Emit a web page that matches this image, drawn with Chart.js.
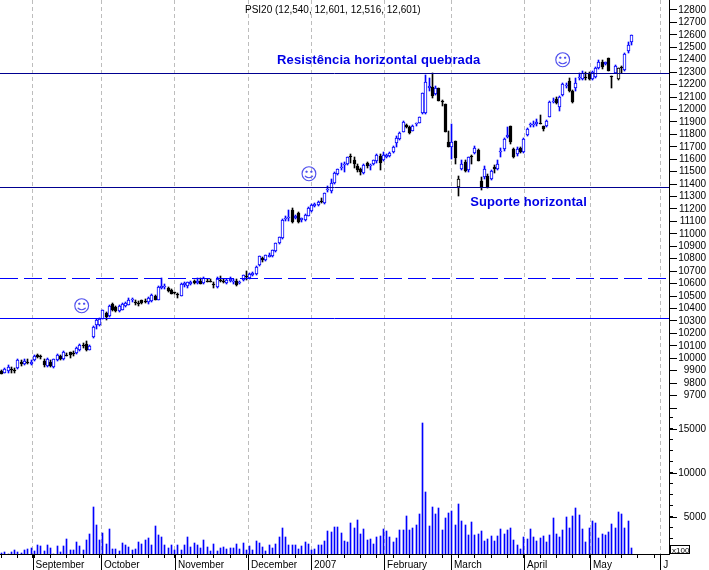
<!DOCTYPE html>
<html>
<head>
<meta charset="utf-8">
<title>PSI20</title>
<script src="https://cdn.jsdelivr.net/npm/chart.js@4"></script>
<style>
    html, body { margin: 0; padding: 0; background: #fff; overflow: hidden; }
    canvas { display: block; }
</style>
</head>
<body>
<canvas id="psiChart" width="709" height="570"></canvas>
<script>
const opens = [
    9900, 9882, 9895, 9912, 9906, 9920, 9970, 9952, 9972, 9955,
    9985, 10028, 10015, 9981, 9941, 9973, 9928, 9985, 10022, 9990,
    10030, 10048, 10045, 10043, 10070, 10105, 10112, 10070, 10168, 10270,
    10270, 10316, 10360, 10337, 10440, 10412, 10378, 10391, 10418, 10432,
    10468, 10455, 10448, 10466, 10460, 10450, 10458, 10503, 10471, 10565,
    10575, 10565, 10551, 10530, 10520, 10504, 10585, 10578, 10600, 10618,
    10605, 10624, 10605, 10625, 10625, 10595, 10573, 10632, 10625, 10605,
    10625, 10610, 10618, 10605, 10631, 10660, 10645, 10670, 10677, 10752,
    10805, 10792, 10815, 10819, 10859, 10926, 10966, 11120, 11125, 11194,
    11130, 11167, 11115, 11113, 11145, 11180, 11225, 11234, 11265, 11247,
    11350, 11341, 11408, 11483, 11530, 11555, 11560, 11625, 11595, 11542,
    11520, 11493, 11568, 11545, 11560, 11582, 11627, 11590, 11620, 11627,
    11662, 11729, 11761, 11822, 11876, 11862, 11830, 11880, 11895, 11969,
    11969, 12170, 12184, 12125, 12170, 12065, 12042, 11742, 11702, 11747,
    11373, 11522, 11581, 11514, 11627, 11654, 11675, 11426, 11461, 11466,
    11439, 11541, 11525, 11660, 11683, 11777, 11868, 11680, 11643, 11688,
    11656, 11795, 11872, 11875, 11881, 11892, 11868, 11870, 11943, 12060,
    12082, 12023, 12117, 12190, 12232, 12151, 12170, 12250, 12243, 12263,
    12296, 12245, 12264, 12331, 12384, 12363, 12411, 12266, 12296, 12243,
    12340, 12317, 12470, 12540
];
const highs = [
    9905, 9920, 9942, 9930, 9925, 9990, 9985, 9990, 9990, 9985,
    10030, 10035, 10030, 9990, 10000, 9985, 9995, 10032, 10030, 10055,
    10045, 10050, 10055, 10090, 10115, 10125, 10142, 10110, 10258, 10318,
    10320, 10390, 10370, 10430, 10445, 10420, 10430, 10445, 10455, 10485,
    10485, 10465, 10460, 10470, 10480, 10490, 10520, 10510, 10578, 10645,
    10600, 10570, 10555, 10535, 10525, 10605, 10615, 10615, 10625, 10630,
    10645, 10645, 10650, 10635, 10635, 10615, 10650, 10665, 10640, 10640,
    10650, 10635, 10640, 10620, 10672, 10698, 10685, 10690, 10740, 10825,
    10815, 10832, 10850, 10872, 10930, 10978, 11118, 11140, 11194, 11210,
    11150, 11175, 11130, 11158, 11212, 11238, 11250, 11265, 11285, 11332,
    11385, 11440, 11498, 11525, 11570, 11575, 11620, 11640, 11615, 11560,
    11530, 11560, 11575, 11565, 11595, 11645, 11645, 11655, 11640, 11660,
    11705, 11790, 11820, 11905, 11885, 11870, 11875, 11895, 11942, 12135,
    12275, 12250, 12290, 12185, 12175, 12075, 12045, 11830, 11880, 11750,
    11466, 11590, 11590, 11620, 11630, 11705, 11680, 11460, 11545, 11480,
    11515, 11550, 11590, 11690, 11770, 11860, 11870, 11690, 11695, 11695,
    11770, 11850, 11890, 11905, 11920, 11955, 11870, 11915, 12070, 12090,
    12100, 12105, 12210, 12215, 12250, 12155, 12250, 12295, 12310, 12300,
    12305, 12310, 12340, 12400, 12395, 12385, 12415, 12268, 12358, 12335,
    12350, 12450, 12540, 12601
];
const lows = [
    9870, 9880, 9882, 9882, 9885, 9915, 9935, 9945, 9950, 9945,
    9975, 10005, 9990, 9930, 9930, 9930, 9925, 9980, 9985, 9985,
    10015, 10005, 10020, 10035, 10060, 10085, 10062, 10065, 10160, 10235,
    10262, 10312, 10310, 10330, 10380, 10375, 10372, 10385, 10408, 10425,
    10455, 10425, 10420, 10440, 10445, 10440, 10450, 10465, 10465, 10555,
    10560, 10530, 10515, 10515, 10485, 10498, 10575, 10565, 10590, 10595,
    10595, 10595, 10600, 10610, 10610, 10565, 10565, 10610, 10605, 10595,
    10615, 10600, 10580, 10595, 10625, 10630, 10640, 10660, 10672, 10745,
    10775, 10785, 10810, 10812, 10852, 10920, 10960, 11100, 11100, 11090,
    11120, 11085, 11095, 11105, 11140, 11175, 11215, 11225, 11250, 11240,
    11335, 11330, 11400, 11475, 11515, 11500, 11552, 11570, 11530, 11500,
    11470, 11485, 11530, 11510, 11552, 11570, 11515, 11585, 11610, 11620,
    11650, 11700, 11755, 11815, 11850, 11800, 11825, 11870, 11890, 11960,
    11960, 12150, 12095, 12115, 12065, 12030, 11815, 11700, 11600, 11565,
    11306, 11510, 11495, 11495, 11565, 11640, 11585, 11355, 11445, 11370,
    11435, 11490, 11515, 11620, 11665, 11770, 11725, 11610, 11625, 11650,
    11650, 11785, 11860, 11860, 11870, 11880, 11830, 11860, 11940, 12050,
    12045, 11985, 12110, 12170, 12140, 12055, 12150, 12240, 12235, 12240,
    12235, 12240, 12255, 12325, 12325, 12355, 12310, 12170, 12290, 12240,
    12295, 12310, 12455, 12516
];
const closes = [
    9875, 9917, 9928, 9906, 9900, 9984, 9950, 9976, 9966, 9970,
    10020, 10012, 10008, 9944, 9995, 9938, 9990, 10027, 9995, 10048,
    10025, 10024, 10038, 10080, 10107, 10095, 10070, 10102, 10252, 10305,
    10316, 10385, 10332, 10423, 10385, 10380, 10423, 10440, 10444, 10466,
    10473, 10448, 10440, 10444, 10455, 10485, 10512, 10471, 10573, 10583,
    10580, 10538, 10519, 10525, 10515, 10600, 10605, 10610, 10615, 10605,
    10620, 10600, 10645, 10620, 10618, 10590, 10637, 10625, 10620, 10632,
    10635, 10625, 10592, 10612, 10666, 10650, 10677, 10682, 10733, 10819,
    10787, 10827, 10830, 10867, 10926, 10974, 11113, 11130, 11135, 11092,
    11140, 11092, 11125, 11153, 11207, 11234, 11240, 11260, 11258, 11327,
    11360, 11408, 11493, 11520, 11540, 11565, 11616, 11620, 11563, 11510,
    11500, 11555, 11542, 11555, 11590, 11630, 11568, 11635, 11630, 11650,
    11697, 11772, 11814, 11897, 11857, 11809, 11868, 11890, 11937, 12130,
    12224, 12190, 12109, 12170, 12071, 12060, 11822, 11702, 11742, 11608,
    11439, 11562, 11509, 11616, 11616, 11688, 11589, 11375, 11520, 11375,
    11509, 11520, 11562, 11670, 11761, 11795, 11742, 11621, 11680, 11662,
    11761, 11841, 11880, 11885, 11903, 11885, 11841, 11908, 12063, 12065,
    12050, 12098, 12202, 12200, 12149, 12058, 12210, 12265, 12296, 12257,
    12243, 12304, 12331, 12379, 12339, 12379, 12312, 12260, 12352, 12331,
    12335, 12443, 12518, 12601
];
const volumes = [
    950, 1060, 830, 1060, 1290, 1060, 910, 1250, 1400, 1480,
    1130, 1850, 1740, 1170, 1850, 1480, 830, 1740, 1020, 1740,
    2540, 1290, 1290, 2190, 1740, 1290, 2420, 3100, 6140, 4130,
    2420, 3220, 1970, 3670, 1400, 1400, 1130, 2080, 1850, 1630,
    1290, 1400, 2190, 1970, 2420, 2650, 1850, 4020, 2990, 2760,
    1850, 1480, 1850, 1250, 1850, 1250, 1850, 2760, 1630, 2080,
    1850, 1480, 2420, 1630, 1170, 1970, 1130, 1530, 1630, 1400,
    1480, 1530, 1970, 1400, 2080, 1250, 1740, 1290, 2310, 2080,
    1630, 1170, 1850, 1510, 1970, 2760, 3790, 2760, 1850, 1850,
    1850, 1400, 1740, 2190, 1970, 1250, 1400, 1850, 1850, 2310,
    3450, 3330, 3900, 3900, 3220, 2310, 2190, 4360, 3790, 4700,
    3110, 3670, 2420, 2540, 1970, 2760, 2880, 3670, 3450, 2760,
    2190, 2650, 3560, 3560, 5150, 3560, 3790, 4130, 5380, 15680,
    7880, 4010, 6170, 5380, 6060, 3560, 4920, 5490, 5720, 4130,
    6520, 4580, 4130, 2990, 4470, 2990, 3110, 3450, 2310, 2540,
    2880, 2310, 2880, 3670, 3110, 3560, 3790, 2420, 1850, 1360,
    2760, 2540, 3670, 2760, 2310, 2650, 2880, 2190, 2990, 4920,
    3110, 2760, 3560, 5040, 3790, 5150, 6060, 5260, 3670, 2190,
    3790, 4580, 4360, 2650, 3110, 2990, 3330, 4240, 3790, 5600,
    5380, 3790, 4580, 1510
];

// hollow candles that were printed with a black outline
const outlinedDays = [140, 189];

const monthNames = ['September', 'October', 'November', 'December', '2007', 'February', 'March', 'April', 'May', 'J'];
const monthDays = [9.46, 30.45, 53.1, 75.5, 94.8, 117.2, 137.7, 160.1, 180.3, 201.8];
const weekDays = [0, 5, 10, 15, 20, 25, 30, 35, 40, 45, 50, 55, 60, 65, 70, 75, 80, 85, 90, 95,
    100, 105, 110, 115, 120, 125, 130, 135, 140, 145, 150, 155, 160, 165, 170, 175, 180, 185, 190, 195, 200];

const priceTicks = [12800, 12700, 12600, 12500, 12400, 12300, 12200, 12100, 12000, 11900, 11800,
    11700, 11600, 11500, 11400, 11300, 11200, 11100, 11000, 10900, 10800, 10700, 10600, 10500,
    10400, 10300, 10200, 10100, 10000, 9900, 9800, 9700, 9600];
const volumeTicks = [16250, 15000, 13750, 12500, 11250, 10000, 8750, 7500, 6250, 5000, 3750, 2500, 1250];
const volumeLabels = [15000, 10000, 5000];

const resistanceLevel = 12293;
const supportLevel = 11378;
const dashedLevel = 10648;
const lowerLevel = 10326;

const smileDays = [24.6, 94.2, 172];
const smilePrices = [10405, 11465, 12385];

const titleText = 'PSI20 (12,540, 12,601, 12,516, 12,601)';
const noteTexts = ['Resistência horizontal quebrada', 'Suporte horizontal'];
const noteDays = [84.4, 143.6];
const notePrices = [12366, 11220];

const isUp = i => closes[i] >= opens[i];
const isOutlined = i => outlinedDays.includes(i);

// bars land on fractional x, snap them so wicks stay 1px and crisp
const snapBars = {
    id: 'snapBars',
    beforeDatasetsDraw(chart) {
        chart.getSortedVisibleDatasetMetas().forEach(meta => {
            meta.data.forEach(bar => {
                bar.x = Math.floor(bar.x) + 0.5;
                bar.y = Math.round(bar.y);
                bar.base = Math.round(bar.base);
                if (bar.y === bar.base) bar.base = bar.y + 1;
            });
        });
    }
};

function hLine(ctx, chart, y, color, dash) {
    ctx.strokeStyle = color;
    ctx.lineWidth = 1;
    ctx.setLineDash(dash);
    ctx.beginPath();
    ctx.moveTo(chart.chartArea.left, Math.round(y) + 0.5);
    ctx.lineTo(chart.chartArea.right, Math.round(y) + 0.5);
    ctx.stroke();
    ctx.setLineDash([]);
}

const overlays = {
    id: 'overlays',
    afterDraw(chart) {
        const ctx = chart.ctx;
        const x = chart.scales.x;
        const price = chart.scales.price;
        const volume = chart.scales.volume;

        ctx.save();
        hLine(ctx, chart, price.getPixelForValue(resistanceLevel), '#000090', []);
        hLine(ctx, chart, price.getPixelForValue(supportLevel), '#000090', []);
        hLine(ctx, chart, price.getPixelForValue(dashedLevel), '#0000ff', [18, 6]);
        hLine(ctx, chart, price.getPixelForValue(lowerLevel), '#0000ff', []);

        // month ticks run down through the label row
        ctx.strokeStyle = '#000';
        ctx.lineWidth = 1;
        monthDays.forEach(day => {
            const px = Math.round(x.getPixelForValue(day)) + 0.5;
            ctx.beginPath();
            ctx.moveTo(px, x.top);
            ctx.lineTo(px, 570);
            ctx.stroke();
        });

        // labelled volume ticks are longer than the rest
        volumeLabels.forEach(value => {
            const py = Math.round(volume.getPixelForValue(value)) + 0.5;
            ctx.beginPath();
            ctx.moveTo(volume.left, py);
            ctx.lineTo(volume.left + 8, py);
            ctx.stroke();
        });

        ctx.fillStyle = '#000';
        ctx.font = '10px "Liberation Sans"';
        ctx.textBaseline = 'alphabetic';
        ctx.textAlign = 'left';
        ctx.fillText(titleText, 245, 13);

        ctx.font = 'bold 13px "Liberation Sans"';
        ctx.fillStyle = '#0000e6';
        ctx.letterSpacing = '0.1px';
        noteTexts.forEach((text, i) => {
            ctx.fillText(text, x.getPixelForValue(noteDays[i]), price.getPixelForValue(notePrices[i]));
        });
        ctx.letterSpacing = '0px';

        ctx.font = '17px "DejaVu Sans"';
        ctx.fillStyle = '#5050ee';
        ctx.textAlign = 'center';
        ctx.textBaseline = 'middle';
        smileDays.forEach((day, i) => {
            ctx.fillText('\u263A', x.getPixelForValue(day), price.getPixelForValue(smilePrices[i]));
        });

        // volume multiplier box
        ctx.fillStyle = '#fff';
        ctx.strokeStyle = '#000';
        ctx.fillRect(670.5, 545.5, 19, 8);
        ctx.strokeRect(670.5, 545.5, 19, 8);
        ctx.fillStyle = '#000';
        ctx.font = '8px "Liberation Sans"';
        ctx.textAlign = 'left';
        ctx.textBaseline = 'alphabetic';
        ctx.fillText('x100', 672, 552.5);
        ctx.restore();
    }
};

// chart.js reserves room for half a label at each axis end, the original has none
function fixBox(scale, size) {
    if (scale.isHorizontal()) scale.height = size;
    else scale.width = size;
    scale.paddingTop = 0;
    scale.paddingBottom = 0;
    scale.paddingLeft = 0;
    scale.paddingRight = 0;
}

new Chart(document.getElementById('psiChart').getContext('2d'), {
    type: 'bar',
    plugins: [snapBars, overlays],
    data: {
        labels: opens.map((o, i) => i),
        datasets: [
            {
                label: 'Volume',
                yAxisID: 'volume',
                data: volumes,
                backgroundColor: '#0000ff',
                barThickness: 1,
                order: 3
            },
            {
                label: 'Range',
                yAxisID: 'price',
                data: lows.map((low, i) => [low, highs[i]]),
                backgroundColor: ctx => (isOutlined(ctx.dataIndex) || !isUp(ctx.dataIndex)) ? '#000' : '#0000ff',
                barThickness: 1,
                order: 2
            },
            {
                label: 'Body',
                yAxisID: 'price',
                data: opens.map((open, i) => [open, closes[i]]),
                backgroundColor: ctx => isUp(ctx.dataIndex) ? '#fff' : '#000',
                borderColor: ctx => (isOutlined(ctx.dataIndex) || !isUp(ctx.dataIndex)) ? '#000' : '#0000ff',
                borderWidth: 1,
                borderSkipped: false,
                barThickness: 3,
                order: 1
            }
        ]
    },
    options: {
        responsive: false,
        animation: false,
        events: [],
        plugins: {
            legend: { display: false },
            tooltip: { enabled: false },
            title: { display: false }
        },
        layout: { padding: { right: 3 } },
        datasets: { bar: { grouped: false } },
        scales: {
            x: {
                type: 'linear',
                position: 'bottom',
                min: -0.5,
                max: 204.5,
                offset: false,
                afterBuildTicks: scale => {
                    scale.ticks = weekDays.concat(monthDays).sort((a, b) => a - b).map(value => ({ value }));
                },
                afterFit: scale => fixBox(scale, 16),
                grid: {
                    offset: false,
                    tickLength: 4,
                    tickColor: '#000',
                    color: ctx => ctx.tick && monthDays.includes(ctx.tick.value) ? '#bdbdbd' : 'transparent'
                },
                border: { color: '#000', dash: [4, 3] },
                ticks: {
                    autoSkip: false,
                    maxRotation: 0,
                    minRotation: 0,
                    align: 'start',
                    labelOffset: 3,
                    padding: 1,
                    color: '#000',
                    font: { family: 'Liberation Sans', size: 10 },
                    callback: value => {
                        const m = monthDays.indexOf(value);
                        return m >= 0 ? monthNames[m] : '';
                    }
                }
            },
            price: {
                type: 'linear',
                position: 'right',
                stack: 'main',
                stackWeight: 408,
                min: 9600,
                max: 12880,
                afterBuildTicks: scale => {
                    scale.ticks = priceTicks.map(value => ({ value }));
                },
                afterFit: scale => fixBox(scale, 37),
                grid: { drawOnChartArea: false, tickLength: 8, tickColor: '#000' },
                border: { color: '#000' },
                ticks: {
                    autoSkip: false,
                    crossAlign: 'far',
                    padding: 0,
                    color: '#000',
                    font: { family: 'Liberation Sans', size: 10 },
                    callback: value => value === 9600 ? '' : String(value)
                }
            },
            volume: {
                type: 'linear',
                position: 'right',
                stack: 'main',
                stackWeight: 146,
                min: 793,
                max: 17383,
                afterBuildTicks: scale => {
                    scale.ticks = volumeTicks.map(value => ({ value }));
                },
                afterFit: scale => fixBox(scale, 37),
                grid: { drawOnChartArea: false, tickLength: 4, tickColor: '#000' },
                border: { color: '#000' },
                ticks: {
                    autoSkip: false,
                    crossAlign: 'far',
                    padding: 4,
                    color: '#000',
                    font: { family: 'Liberation Sans', size: 10 },
                    callback: value => volumeLabels.includes(value) ? String(value) : ''
                }
            }
        }
    }
});
</script>
</body>
</html>
